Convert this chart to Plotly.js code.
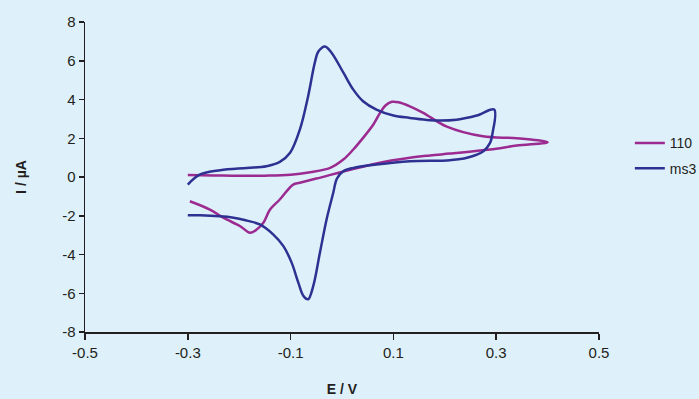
<!DOCTYPE html>
<html>
<head>
<meta charset="utf-8">
<script src="https://cdn.plot.ly/plotly-3.0.1.min.js"></script>
<style>
html,body{margin:0;padding:0;background:#def1fa;}
#chart{width:699px;height:399px;}
</style>
</head>
<body>
<div id="chart"></div>
<script>
// Series "110" (E / V, I / µA)
const e110 = [-0.30, -0.25, -0.20, -0.15, -0.10, -0.062, -0.023, 0.0025, 0.022, 0.041, 0.061, 0.074, 0.084, 0.097, 0.110, 0.132, 0.158, 0.204, 0.274, 0.34, 0.40,
              0.34, 0.288, 0.21, 0.171, 0.132, 0.067, -0.05, -0.082, -0.095, -0.121, -0.140, -0.153, -0.166, -0.179, -0.198, -0.231, -0.257, -0.296];
const i110 = [0.10, 0.08, 0.06, 0.07, 0.12, 0.25, 0.47, 0.90, 1.42, 2.02, 2.71, 3.31, 3.68, 3.88, 3.86, 3.65, 3.31, 2.60, 2.10, 2.00, 1.80,
              1.62, 1.42, 1.21, 1.11, 0.99, 0.70, -0.08, -0.30, -0.39, -1.16, -1.68, -2.36, -2.71, -2.88, -2.54, -2.10, -1.68, -1.25];
// Series "ms3"
const ems3 = [-0.30, -0.276, -0.237, -0.185, -0.147, -0.121, -0.101, -0.082, -0.066, -0.053, -0.046, -0.033, -0.020, 0.003, 0.022, 0.041, 0.067, 0.100, 0.132, 0.171, 0.223, 0.262, 0.296,
              0.293, 0.288, 0.275, 0.243, 0.21, 0.132, 0.067, 0.022, 0.0025, -0.010, -0.017, -0.030, -0.043, -0.056, -0.066, -0.075, -0.085, -0.098, -0.114, -0.134, -0.160, -0.185, -0.211, -0.276, -0.30];
const ims3 = [-0.39, 0.13, 0.35, 0.47, 0.56, 0.78, 1.25, 2.45, 4.16, 5.89, 6.48, 6.74, 6.40, 5.37, 4.51, 3.91, 3.48, 3.17, 3.05, 2.93, 2.96, 3.17, 3.48,
              2.28, 1.76, 1.33, 0.99, 0.87, 0.81, 0.64, 0.47, 0.30, -0.09, -0.81, -2.19, -3.91, -5.63, -6.31, -6.14, -5.45, -4.42, -3.57, -2.96, -2.45, -2.25, -2.10, -1.98, -1.98];
const seriesNames = ['110', 'ms3'];
const xTicks = [-0.5, -0.3, -0.1, 0.1, 0.3, 0.5];
const xTickText = ['-0.5', '-0.3', '-0.1', '0.1', '0.3', '0.5'];
const yTicks = [-8, -6, -4, -2, 0, 2, 4, 6, 8];
const yTickText = ['-8', '-6', '-4', '-2', '0', '2', '4', '6', '8'];

const ff = 'Liberation Sans, Arial, sans-serif';
const traces = [
  {x: e110, y: i110, name: seriesNames[0], legendgroup: 'a', mode: 'lines', line: {color: '#9b2a91', width: 2.5, shape: 'spline', smoothing: 1}},
  {x: ems3, y: ims3, name: seriesNames[1], legendgroup: 'b', mode: 'lines', line: {color: '#2e3192', width: 2.5, shape: 'spline', smoothing: 1}}
];
const layout = {
  width: 699, height: 399,
  margin: {l: 85, r: 100, t: 22, b: 67, autoexpand: false},
  paper_bgcolor: '#def1fa',
  plot_bgcolor: 'rgba(0,0,0,0)',
  font: {family: ff, size: 15, color: '#231f20'},
  showlegend: true,
  legend: {x: 1.06, y: 0.568, xanchor: 'left', yanchor: 'middle', bgcolor: 'rgba(0,0,0,0)',
           font: {family: ff, size: 14, color: '#231f20'}, tracegroupgap: 4},
  xaxis: {
    range: [-0.5, 0.5], tickvals: xTicks, ticktext: xTickText,
    showline: true, linecolor: '#231f20', linewidth: 1.5, ticks: 'outside', ticklen: 6, tickwidth: 1.5, tickcolor: '#231f20',
    showgrid: false, zeroline: false,
    title: {text: '<b>E / V</b>', font: {family: ff, size: 14, color: '#231f20'}, standoff: 24}
  },
  yaxis: {
    range: [-8, 8], tickvals: yTicks, ticktext: yTickText,
    showline: true, linecolor: '#231f20', linewidth: 1.5, ticks: 'outside', ticklen: 5, tickwidth: 1.5, tickcolor: '#231f20',
    showgrid: false, zeroline: false,
    title: {text: '<b>I / µA</b>', font: {family: ff, size: 14, color: '#231f20'}, standoff: 32}
  }
};
Plotly.newPlot('chart', traces, layout, {displayModeBar: false, staticPlot: true});
</script>
</body>
</html>
